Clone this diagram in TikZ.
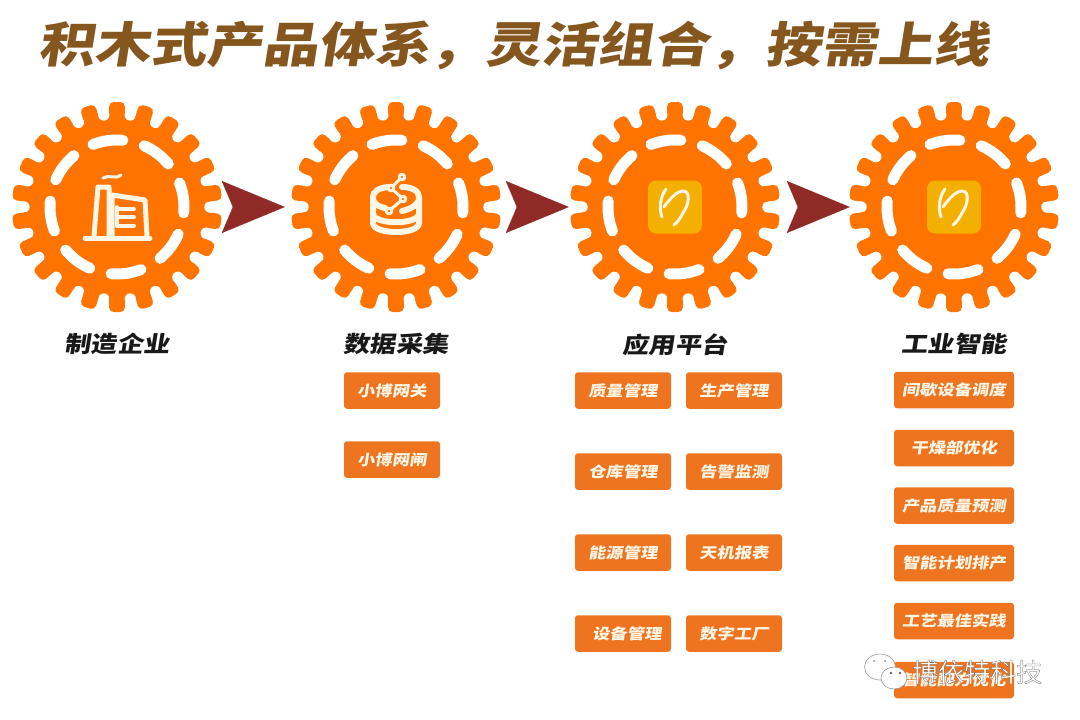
\documentclass[tikz,border=0pt]{standalone}
\usepackage{fontspec}
\usepackage{xcolor}
\usetikzlibrary{arrows.meta,positioning}
\newfontfamily\headfont[FakeSlant=0.16,FakeStretch=1.166]{Noto Sans CJK SC Black}
\newfontfamily\markfont[FakeBold=0.9]{Noto Sans CJK SC}
\definecolor{gearorange}{HTML}{FF7300}
\definecolor{boxorange}{HTML}{EE7420}
\definecolor{dartred}{HTML}{8F2A26}
\definecolor{titlebrown}{HTML}{85561E}
\definecolor{iconcream}{HTML}{FFF6E6}
\definecolor{appyellow}{HTML}{F3B000}

% one gear at the current origin
\newcommand{\gearbody}{%
    \fill[gearorange] (0,0) circle (93);
    \foreach \a in {0,...,21} {
        \fill[gearorange, rounded corners=4.5, rotate=90+\a*16.3636] (85,-7.8) rectangle (105,7.8);
        \fill[white] (98.18+\a*16.3636:93) circle (5.7);
    }
    \foreach \a in {0,...,7} {
        \draw[white, line width=11pt, line cap=round] (\a*45-98-13:67) arc[start angle=\a*45-98-13, end angle=\a*45-98+13, radius=67];
    }
}
% the yellow tile with its white stroke
\newcommand{\appicon}{%
    \fill[appyellow, rounded corners=8] (-27,-26.5) rectangle (27,26.5);
    \draw[iconcream, line width=3pt, line cap=round] (-9,-18) .. controls (-15,-10) and (-16,2) .. (-13,10);
    \draw[iconcream, line width=3pt, line cap=round] (-11,0) .. controls (-4,-10) and (3,-16) .. (8,-16) .. controls (16,-16) and (14,-2) .. (8,6) .. controls (6,10) and (3,15) .. (-1,18);
}

\begin{document}
\begin{tikzpicture}[
    x=1pt, y=-1pt,
    gearnode/.style={circle, minimum size=210pt, inner sep=0pt},
    headline/.style={font=\headfont\fontsize{48}{48}\selectfont, text=titlebrown, inner sep=0pt},
    caption/.style={font=\headfont\fontsize{22.5}{22.5}\selectfont, text=black!90, inner sep=0pt},
    tagbox/.style={rectangle, rounded corners=3pt, fill=boxorange, text=iconcream, minimum height=36.5pt, inner sep=0pt, font=\headfont\fontsize{14.8}{14.8}\selectfont},
    narrowtag/.style={tagbox, minimum width=96pt},
    widetag/.style={tagbox, minimum width=120pt},
    flow/.style={draw=dartred, line width=0.2pt, -{Stealth[length=63pt,width=52pt,inset=11pt,fill=dartred]}},
    iconline/.style={draw=iconcream, line width=5pt, line cap=round, line join=round},
    markbubble/.style={fill=white, draw=black!40, line width=0.6pt}
]
    \useasboundingbox (0,0) rectangle (1080,720);

    \node[headline, anchor=west] (headline) at (38,45) {积木式产品体系，灵活组合，按需上线};

    % gears
    \node[gearnode] (gearA) at (117,207) {};
    \node[gearnode] (gearB) at (396,207) {};
    \node[gearnode] (gearC) at (675,207) {};
    \node[gearnode] (gearD) at (954,207) {};
    \foreach \g in {gearA,gearB,gearC,gearD} {
        \begin{scope}[shift={(\g)}]
            \gearbody
        \end{scope}
    }

    % factory
    \begin{scope}[shift={(gearA)}]
        \draw[iconline] (-32,31) -- (33,31);
        \draw[iconline] (-23,29) -- (-19,-20) -- (-8,-20) -- (-8,29);
        \draw[iconline] (-5,29) -- (-5,-12) -- (28,-7) -- (30,29);
        \draw[iconline, line width=4pt] (0,0) -- (0,19);
        \draw[iconline, line width=4pt] (0,2) -- (17,2) (0,10) -- (17,10) (0,18.5) -- (17,18.5);
        \draw[iconline, line width=3pt] (-14,-29) .. controls (-8,-33) and (-2,-27) .. (4,-32);
    \end{scope}

    % database
    \begin{scope}[shift={(gearB)}]
        \draw[iconline, line width=6pt] (-8,-20) .. controls (-18,-19) and (-23,-15) .. (-23,-10) -- (-23,16) .. controls (-23,28) and (23,28) .. (23,16) -- (23,-10) .. controls (23,-16) and (16,-20) .. (6,-20);
        \draw[iconline, line width=6pt] (-23,7) .. controls (-21,18) and (21,18) .. (23,7);
        \draw[iconline, line width=6pt] (-23,-7) .. controls (-21,-2) and (-16,0) .. (-11,1);
        \draw[iconline, line width=6pt] (23,-7) .. controls (21,-2) and (15,2) .. (6,4);
        \draw[iconline, line width=3pt] (6,-30) -- (-5,-19) -- (7,-8) -- (-7,4);
        \draw[iconline, line width=3pt, fill=gearorange] (6,-30) circle (2.8) (-5,-19) circle (2.8) (7,-8) circle (2.8) (-7,4) circle (2.8);
    \end{scope}

    % app tiles
    \begin{scope}[shift={(gearC)}]
        \appicon
    \end{scope}
    \begin{scope}[shift={(gearD)}]
        \appicon
    \end{scope}

    % darts between the gears
    \draw[flow, shorten <=22pt, shorten >=6pt] (gearA) -- (gearB);
    \draw[flow, shorten <=28pt, shorten >=1pt] (gearB) -- (gearC);
    \draw[flow, shorten <=22pt, shorten >=-1pt] (gearC) -- (gearD);

    % captions
    \node[caption, below=21pt of gearA] (capA) {制造企业};
    \node[caption, below=21pt of gearB] (capB) {数据采集};
    \node[caption, below=21pt of gearC] (capC) {应用平台};
    \node[caption, below=21pt of gearD] (capD) {工业智能};

    % tags
    \node[narrowtag] (gateway) at (392,390.5) {小博网关};
    \node[narrowtag] (sluice) at (392,459.5) {小博网闸};

    \node[narrowtag] (quality) at (623,390.5) {质量管理};
    \node[narrowtag] (production) at (734,390.5) {生产管理};
    \node[narrowtag] (warehouse) at (623,471.5) {仓库管理};
    \node[narrowtag] (alarm) at (734,471.5) {告警监测};
    \node[narrowtag] (energy) at (623,552.5) {能源管理};
    \node[narrowtag] (report) at (734,552.5) {天机报表};
    \node[narrowtag] (equipment) at (623,633.5) {\hspace*{8pt}设备管理};
    \node[narrowtag] (digital) at (734,633.5) {数字工厂};

    \node[widetag] (batch) at (954,390) {间歇设备调度};
    \node[widetag] (drying) at (954,448) {干燥部优化};
    \node[widetag] (predict) at (954,505.5) {产品质量预测};
    \node[widetag] (schedule) at (954,563) {智能计划排产};
    \node[widetag] (practice) at (954,621) {工艺最佳实践};
    \node[widetag] (recipe) at (954,680) {智能配方优化};

    % watermark
    \draw[markbubble] (880,667) ellipse (15.5 and 13);
    \draw[markbubble] (894,678) ellipse (13 and 11);
    \fill[black!45] (874,661) circle (1) (885,661) circle (1);
    \fill[black!60] (891,673) circle (1.3) (900,673) circle (1.3);
    \node[anchor=west, inner sep=0pt, font=\markfont\fontsize{26}{26}\selectfont, text=white] (mark) at (912,672) {\special{pdf:code 0.35 G}博依特科技};
\end{tikzpicture}
\end{document}
